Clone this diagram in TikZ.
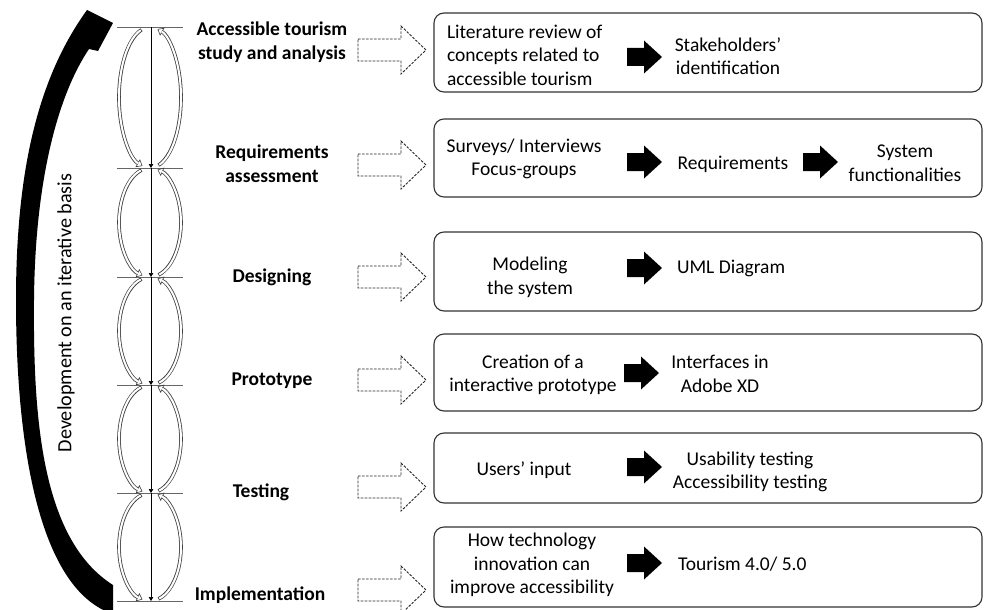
\documentclass[tikz,border=0pt]{standalone}
\usepackage{fontspec}
\setmainfont{Carlito}
\usetikzlibrary{arrows.meta}
\begin{document}
\begin{tikzpicture}[x=1pt,y=1pt,
  every node/.style={inner sep=0pt, outer sep=0pt},
  txt/.style={font=\fontsize{19.5}{23.6}\selectfont, align=center},
  txtl/.style={txt, align=left},
  phase/.style={font=\fontsize{19.5}{23.6}\selectfont\bfseries, align=center},
  stagebox/.style={draw=black!80, line width=1.1pt, rounded corners=10pt,
    minimum width=548pt, anchor=north west},
  tickline/.style={draw=black!60, line width=0.8pt},
  axisseg/.style={draw=black, line width=0.7pt, -{Triangle[length=4pt,width=4.5pt]}},
  bandout/.style={draw=black!75, line width=3.6pt},
  bandin/.style={draw=white, line width=2pt},
  bandtip/.style={-{Triangle[open,length=5.5pt,width=9pt,line width=0.6pt]}},
  fatarrow/.pic={\fill[black] (0,9) -- (17,9) -- (17,16.5) -- (35,0) -- (17,-16.5) -- (17,-9) -- (0,-9) -- cycle;},
  dasharrow/.pic={\draw[black!85, line width=0.9pt, dash pattern=on 2.6pt off 1.4pt, fill=white]
    (0,11) -- (43,11) -- (43,24) -- (68,0) -- (43,-24) -- (43,-11) -- (0,-11) -- cycle;},
]
\useasboundingbox (0,0) rectangle (985,-610);
\clip (0,0) rectangle (985,-610);

% large curved arrow on the left
\fill[black] (113,-614) .. controls (40,-590) and (16,-450) .. (16,-300)
  .. controls (16,-165) and (40,-75) .. (87,-10) -- (113,-23) -- (98,-51)
  -- (89,-49)
  .. controls (58,-95) and (35,-180) .. (34,-300)
  .. controls (33,-420) and (42,-540) .. (113,-585) -- cycle;
\node[txt, font=\fontsize{20.2}{24}\selectfont, rotate=90] (iter) at (66,-313) {Development on an iterative basis};

% time axis with tick marks
\foreach \i/\y in {0/27,1/168,2/277,3/385,4/493,5/601}{
  \coordinate (t\i) at (151,-\y);
  \draw[tickline] (117,-\y) -- (183,-\y);
}
\foreach \a/\b in {0/1,1/2,2/3,3/4,4/5}{
  \draw[axisseg] (t\a) -- (t\b);
}

% hollow cycle arrows between ticks
\foreach \t/\b in {27/168,168/277,277/385,385/493,493/601}{
  \pgfmathsetmacro\m{(\t+\b)/2}
  \pgfmathsetmacro\r{(\b-\t)/2}
  % left arc, running down
  \draw[bandout, bandtip] ({150+31*cos(106)},{-\m+\r*sin(106)})
    arc[start angle=106, end angle=256, x radius=31, y radius=\r];
  \draw[bandin, shorten <=0.8pt, shorten >=5pt] ({150+31*cos(106)},{-\m+\r*sin(106)})
    arc[start angle=106, end angle=256, x radius=31, y radius=\r];
  % right arc, running up
  \draw[bandout, bandtip] ({150+31*cos(-74)},{-\m+\r*sin(-74)})
    arc[start angle=-74, end angle=76, x radius=31, y radius=\r];
  \draw[bandin, shorten <=0.8pt, shorten >=5pt] ({150+31*cos(-74)},{-\m+\r*sin(-74)})
    arc[start angle=-74, end angle=76, x radius=31, y radius=\r];
}

% phase labels
\node[phase] (p1) at (272,-42) {Accessible tourism\\study and analysis};
\node[phase] (p2) at (272,-164) {Requirements\\assessment};
\node[phase] (p3) at (272,-277) {Designing};
\node[phase] (p4) at (272,-381) {Prototype};
\node[phase] (p5) at (261,-492) {Testing};
\node[phase] (p6) at (260,-595) {Implementation};

% dashed hollow arrows
\pic at (358,-50) {dasharrow};
\pic at (358,-165) {dasharrow};
\pic at (358,-277) {dasharrow};
\pic at (358,-380) {dasharrow};
\pic at (358,-487) {dasharrow};
\pic at (358,-590) {dasharrow};

% stage boxes
\node[stagebox, minimum height=79pt] (b1) at (434,-13) {};
\node[stagebox, minimum height=78pt] (b2) at (434,-119) {};
\node[stagebox, minimum height=79pt] (b3) at (434,-232) {};
\node[stagebox, minimum height=77pt] (b4) at (434,-334) {};
\node[stagebox, minimum height=70pt] (b5) at (434,-433) {};
\node[stagebox, minimum height=80pt] (b6) at (434,-527) {};

% row 1
\node[txtl, anchor=west] (r1a) at (447,-55) {Literature review of\\concepts related to\\accessible tourism};
\pic at (627,-57) {fatarrow};
\node[txt] (r1b) at (728,-56) {Stakeholders’\\identification};
% row 2
\node[txt] (r2a) at (524,-159) {Surveys/ Interviews\\Focus-groups};
\pic at (627,-162) {fatarrow};
\node[txt] (r2b) at (733,-164) {Requirements};
\pic at (803,-162) {fatarrow};
\node[txt] (r2c) at (905,-163) {System\\functionalities};
% row 3
\node[txt] (r3a) at (530,-277) {Modeling\\the system};
\pic at (627,-268) {fatarrow};
\node[txt, anchor=west] (r3b) at (677,-268) {UML Diagram};
% row 4
\node[txt] (r4a) at (533,-375) {Creation of a\\interactive prototype};
\pic at (624,-373) {fatarrow};
\node[txt] (r4b) at (720,-374) {Interfaces in\\Adobe XD};
% row 5
\node[txt] (r5a) at (524,-470) {Users’ input};
\pic at (627,-467) {fatarrow};
\node[txt] (r5b) at (750,-472) {Usability testing\\Accessibility testing};
% row 6
\node[txt] (r6a) at (532,-565) {How technology\\innovation can\\improve accessibility};
\pic at (627,-563) {fatarrow};
\node[txt, anchor=west] (r6b) at (678,-564) {Tourism 4.0/ 5.0};
\end{tikzpicture}
\end{document}
